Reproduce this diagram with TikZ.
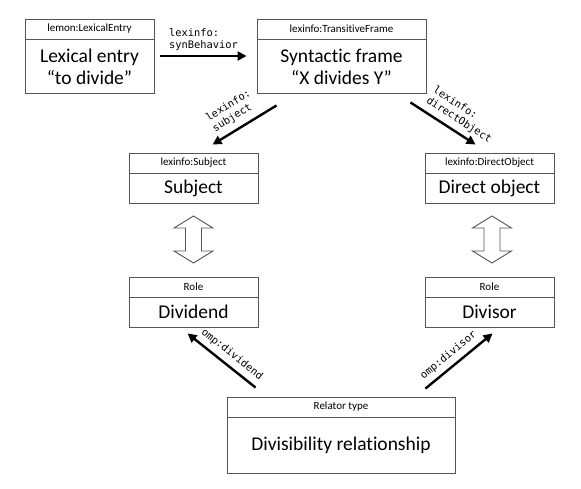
\documentclass[tikz,border=0pt]{standalone}
\usepackage{fontspec}
\setmainfont{Carlito}[Ligatures={NoCommon,NoRequired,NoContextual}]
\newfontfamily\codefont{DejaVu Sans Mono}
\usetikzlibrary{arrows.meta}
\definecolor{boxline}{HTML}{555555}
\tikzset{
  boxframe/.style={draw=boxline, line width=0.9pt, fill=white, inner sep=0pt},
  headtext/.style={font=\fontsize{11}{13}\selectfont, inner sep=0pt},
  bodytext/.style={font=\fontsize{19.5}{22}\selectfont, align=center, inner sep=0pt},
  conn/.style={line width=2.4pt, -{Triangle[length=9pt,width=9pt]}},
  lbl/.style={font=\codefont\fontsize{10.4}{12.5}\selectfont, align=left, inner sep=1pt},
  dblarrow/.style={draw=boxline, line width=0.9pt, fill=white, line join=miter}
}
\newcommand{\umlbox}[7]{% name, x1, y1, x2, y2, ydiv, header
  \node[boxframe, minimum width={(#4-#2)*1pt}, minimum height={(#5-#3)*1pt}] (#1) at ({(#2+#4)/2},{(#3+#5)/2}) {};
  \draw[boxline, line width=0.9pt] (#2,#6) -- (#4,#6);
  \node[headtext] (#1-head) at ({(#2+#4)/2},{(#3+#6)/2}) {#7};
}
\newcommand{\dbl}[2]{% centre x, name
  \draw[dblarrow] (#1,216) -- (#1+19.5,228) -- (#1+8,228) -- (#1+8,251) -- (#1+19.5,251) -- (#1,263)
    -- (#1-19.5,251) -- (#1-8,251) -- (#1-8,228) -- (#1-19.5,228) -- cycle;
}
\begin{document}
\begin{tikzpicture}[x=1pt,y=-1pt]
\useasboundingbox (0,0) rectangle (581,488);

\umlbox{lex}{25}{19}{154}{93}{39}{lemon:LexicalEntry}
\node[bodytext] (lex-body) at (89.5,67) {Lexical entry\\“to divide”};

\umlbox{frame}{257}{19}{426}{93}{39}{lexinfo:TransitiveFrame}
\node[bodytext] (frame-body) at (341.5,67) {Syntac\kern0pt t\kern0pt ic frame\\“X divides Y”};

\umlbox{subj}{129}{153}{258}{203}{173}{lexinfo:Subject}
\node[bodytext] (subj-body) at (193.5,188) {Subject};

\umlbox{dobj}{425}{153}{554}{203}{173}{lexinfo:DirectObject}
\node[bodytext] (dobj-body) at (489.5,188) {Direct object};

\umlbox{divd}{129}{277}{258}{327}{297}{Role}
\node[bodytext] (divd-body) at (193.5,312) {Dividend};

\umlbox{divr}{425}{277}{554}{327}{297}{Role}
\node[bodytext] (divr-body) at (489.5,312) {Divisor};

\umlbox{rel}{227}{397}{455}{473}{417}{Relator type}
\node[bodytext] (rel-body) at (341,445) {Divisibility relationship};

\dbl{193.5}{dl}
\dbl{492}{dr}

\draw[conn] ([xshift=6pt]lex.east) -- node[lbl, above=3pt] {lexinfo:\\synBehavior} ([xshift=-10pt]frame.west);

\draw[conn] ([xshift=20pt,yshift=-12pt]frame.south west) -- node[lbl, sloped, above=5pt, pos=0.55] {lexinfo:\\subject} ([xshift=84pt,yshift=8pt]subj.north west);

\draw[conn] ([xshift=-16pt,yshift=-9pt]frame.south east) -- node[lbl, sloped, above=4pt, pos=0.65] {lexinfo:\\directObject} ([xshift=51pt,yshift=8pt]dobj.north west);

\draw[conn] ([xshift=29pt,yshift=9pt]rel.north west) -- node[lbl, sloped, above=4pt, pos=0.45] {omp:dividend} ([xshift=59pt,yshift=-6pt]divd.south west);

\draw[conn] ([xshift=-30pt,yshift=8pt]rel.north east) -- node[lbl, sloped, above=4pt, pos=0.45] {omp:divisor} ([xshift=68pt,yshift=-6pt]divr.south west);
\end{tikzpicture}
\end{document}
